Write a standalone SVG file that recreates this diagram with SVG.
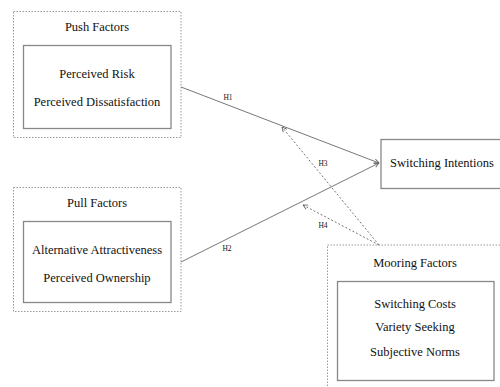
<svg xmlns="http://www.w3.org/2000/svg" width="500" height="387" viewBox="0 0 500 387">
<style>
text{font-family:"Liberation Serif","Times New Roman",serif;fill:#111;text-anchor:middle}
.t{font-size:12.5px}
.h{font-size:7.5px}
.outer{fill:none;stroke:#999;stroke-width:1;stroke-dasharray:1.5 1.5}
.inner{fill:#fff;stroke:#888;stroke-width:1.3}
.solid{fill:none;stroke:#777;stroke-width:1}
.dot{fill:none;stroke:#777;stroke-width:1;stroke-dasharray:2 2}
</style>
<defs>
<marker id="arr" viewBox="0 0 10 10" refX="9" refY="5" markerWidth="6" markerHeight="6" orient="auto" markerUnits="userSpaceOnUse">
<path d="M1,1 L9,5 L1,9" fill="none" stroke="#666" stroke-width="1.5"/>
</marker>
</defs>
<rect width="500" height="387" fill="#fff"/>
<g id="push">
<rect class="outer" x="13.5" y="11.5" width="167.5" height="126"/>
<text class="t" x="97" y="31">Push Factors</text>
<rect class="inner" x="23.5" y="45.5" width="147.5" height="83"/>
<text class="t" x="97" y="78">Perceived Risk</text>
<text class="t" x="97" y="106">Perceived Dissatisfaction</text>
</g>
<g id="pull">
<rect class="outer" x="13.5" y="187.5" width="167.5" height="124"/>
<text class="t" x="97" y="207">Pull Factors</text>
<rect class="inner" x="23.5" y="221.5" width="147.5" height="81"/>
<text class="t" x="97" y="254">Alternative Attractiveness</text>
<text class="t" x="97" y="282">Perceived Ownership</text>
</g>
<g id="switching">
<rect class="inner" x="381" y="139.5" width="122" height="49"/>
<text class="t" x="442" y="167">Switching Intentions</text>
</g>
<g id="mooring">
<rect class="outer" x="327.5" y="245" width="180" height="150"/>
<text class="t" x="415" y="267">Mooring Factors</text>
<rect class="inner" x="337.5" y="281.5" width="156.5" height="99"/>
<text class="t" x="415" y="308">Switching Costs</text>
<text class="t" x="415" y="331">Variety Seeking</text>
<text class="t" x="415" y="356">Subjective Norms</text>
</g>
<g id="connectors">
<line class="solid" x1="181" y1="87" x2="379" y2="163" marker-end="url(#arr)"/>
<line class="solid" x1="181" y1="262" x2="379" y2="163" marker-end="url(#arr)"/>
<line class="dot" x1="379" y1="245" x2="282" y2="127" marker-end="url(#arr)"/>
<line class="dot" x1="379" y1="245" x2="303" y2="205" marker-end="url(#arr)"/>
<text class="h" x="228" y="100">H1</text>
<text class="h" x="227" y="251">H2</text>
<text class="h" x="323" y="166">H3</text>
<text class="h" x="323" y="228">H4</text>
</g>
</svg>
